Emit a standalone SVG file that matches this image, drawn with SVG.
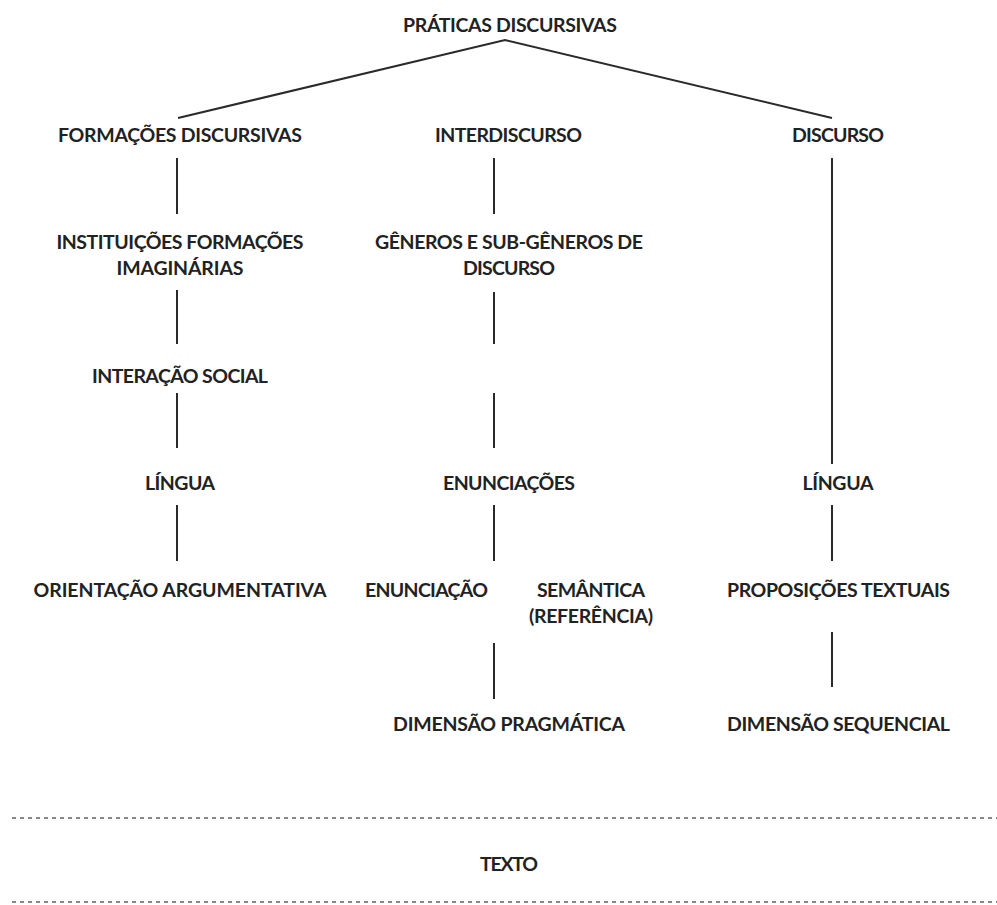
<svg xmlns="http://www.w3.org/2000/svg" width="997" height="905" viewBox="0 0 997 905">
<style>
  text { font-family: "Lato", "Carlito", "Open Sans", sans-serif; font-weight: bold; font-size: 19.5px; fill: #222; text-anchor: middle; }
  .edge { stroke: #2a2a2a; stroke-width: 2; fill: none; }
  .sep { stroke: #8a8a8a; stroke-width: 2; stroke-dasharray: 4 4; fill: none; }
</style>
<rect width="997" height="905" fill="#ffffff"/>

<g id="connectors">
  <polyline class="edge" points="178,118 505,40 832,118"/>
  <line class="edge" x1="177" y1="158" x2="177" y2="214"/>
  <line class="edge" x1="177" y1="290" x2="177" y2="344"/>
  <line class="edge" x1="177" y1="393" x2="177" y2="448"/>
  <line class="edge" x1="177" y1="505" x2="177" y2="561"/>
  <line class="edge" x1="494" y1="158" x2="494" y2="214"/>
  <line class="edge" x1="494" y1="292" x2="494" y2="344"/>
  <line class="edge" x1="494" y1="393" x2="494" y2="448"/>
  <line class="edge" x1="494" y1="505" x2="494" y2="561"/>
  <line class="edge" x1="494" y1="643" x2="494" y2="699"/>
  <line class="edge" x1="832" y1="158" x2="832" y2="464"/>
  <line class="edge" x1="832" y1="505" x2="832" y2="561"/>
  <line class="edge" x1="832" y1="632" x2="832" y2="687"/>
</g>

<g id="separators">
  <line class="sep" x1="12" y1="818" x2="997" y2="818"/>
  <line class="sep" x1="12" y1="902" x2="997" y2="902"/>
</g>

<g id="praticas-discursivas"><text x="510" y="32" textLength="214">PRÁTICAS DISCURSIVAS</text></g>

<g id="formacoes-discursivas"><text x="180" y="142" textLength="244">FORMAÇÕES DISCURSIVAS</text></g>
<g id="interdiscurso"><text x="508.5" y="142" textLength="147">INTERDISCURSO</text></g>
<g id="discurso"><text x="838" y="142" textLength="92">DISCURSO</text></g>

<g id="instituicoes">
  <text x="180" y="249" textLength="247">INSTITUIÇÕES FORMAÇÕES</text>
  <text x="180" y="275" textLength="127">IMAGINÁRIAS</text>
</g>
<g id="generos">
  <text x="509" y="249" textLength="268">GÊNEROS E SUB-GÊNEROS DE</text>
  <text x="509" y="275" textLength="92">DISCURSO</text>
</g>

<g id="interacao-social"><text x="180" y="383" textLength="176">INTERAÇÃO SOCIAL</text></g>

<g id="lingua-1"><text x="180" y="490" textLength="70">LÍNGUA</text></g>
<g id="enunciacoes"><text x="509" y="490" textLength="132">ENUNCIAÇÕES</text></g>
<g id="lingua-2"><text x="838" y="490" textLength="71">LÍNGUA</text></g>

<g id="orientacao-argumentativa"><text x="180" y="597" textLength="293">ORIENTAÇÃO ARGUMENTATIVA</text></g>
<g id="enunciacao"><text x="426.5" y="597" textLength="123">ENUNCIAÇÃO</text></g>
<g id="semantica">
  <text x="591" y="597" textLength="108">SEMÂNTICA</text>
  <text x="591" y="623" textLength="124">(REFERÊNCIA)</text>
</g>
<g id="proposicoes-textuais"><text x="838.5" y="597" textLength="223">PROPOSIÇÕES TEXTUAIS</text></g>

<g id="dimensao-pragmatica"><text x="509" y="731" textLength="232">DIMENSÃO PRAGMÁTICA</text></g>
<g id="dimensao-sequencial"><text x="838.5" y="731" textLength="223">DIMENSÃO SEQUENCIAL</text></g>

<g id="texto"><text x="509" y="871" textLength="58">TEXTO</text></g>
</svg>
